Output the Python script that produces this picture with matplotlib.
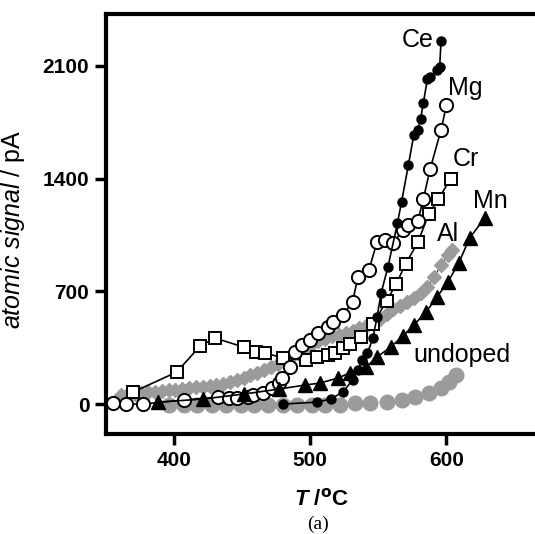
import matplotlib
matplotlib.use('Agg')
import matplotlib.pyplot as plt

plt.rcParams['font.family'] = ['Liberation Sans', 'DejaVu Sans']
plt.rcParams['mathtext.fontset'] = 'custom'
plt.rcParams['mathtext.rm'] = 'Liberation Sans'
plt.rcParams['mathtext.it'] = 'Liberation Sans:italic'
plt.rcParams['mathtext.bfit'] = 'Liberation Sans:italic:bold'

# --- data ---
ce_T = [480, 505, 515, 524, 531, 535, 538, 542, 546, 549, 552, 557, 564, 567,
        572, 576, 579, 581, 583, 586, 588, 593, 595, 596]
ce_S = [0, 12, 31, 75, 149, 211, 273, 317, 410, 540, 689, 851, 1124, 1255,
        1484, 1671, 1702, 1770, 1870, 2019, 2031, 2075, 2093, 2255]

mg_T = [355, 365, 377, 407, 432, 440, 446, 454, 458, 465, 472, 477, 479, 485,
        489, 494, 500, 506, 513, 517, 524, 531, 535, 543, 549, 555, 561, 568,
        572, 579, 583, 588, 596, 600]
mg_S = [6, 0, 0, 25, 43, 37, 37, 43, 56, 68, 99, 130, 161, 230,
        323, 366, 398, 441, 478, 509, 553, 634, 789, 832, 1006, 1019, 1000, 1081,
        1112, 1137, 1273, 1460, 1702, 1857]

cr_T = [370, 402, 419, 430, 451, 460, 467, 480, 497, 505, 513, 518, 524, 529,
        537, 546, 556, 563, 570, 579, 587, 594, 603]
cr_S = [75, 199, 360, 410, 354, 323, 317, 286, 273, 292, 304, 317, 348, 373,
        416, 497, 640, 745, 870, 1006, 1180, 1273, 1398]

mn_T = [388, 421, 451, 477, 496, 507, 520, 529, 541, 549, 559, 568, 576, 585,
        593, 601, 609, 617, 628]
mn_S = [12, 31, 62, 93, 118, 130, 161, 193, 230, 292, 354, 422, 491, 571,
        665, 758, 876, 1031, 1155]

al_T = [361, 366, 371, 376, 381, 386, 391, 396, 401, 406, 411, 416, 421, 426,
        431, 436, 441, 446, 451, 456, 461, 466, 471, 476, 481, 486, 491, 496,
        501, 506, 511, 516, 521, 526, 531, 536, 541, 546, 551, 556, 561, 566,
        571, 576, 581, 586, 591, 596, 601, 604]
al_S = [56, 60, 64, 68, 72, 77, 81, 86, 90, 94, 98, 103, 107, 112,
        118, 126, 137, 150, 164, 180, 196, 213, 230, 250, 272, 295, 320, 345,
        370, 390, 407, 420, 432, 444, 456, 470, 485, 505, 530, 560, 588, 610,
        632, 658, 690, 727, 790, 863, 925, 957]

un_T = [396, 407, 417, 428, 438, 449, 459, 469, 480, 490, 501, 511, 522, 533,
        544, 556, 567, 577, 587, 596, 602, 607]
un_S = [-6, -6, -6, -6, -6, -6, -6, -6, -3, -3, -3, -3, -3, 6,
        6, 12, 25, 43, 68, 99, 137, 180]

labels = ['Ce', 'Mg', 'Cr', 'Mn', 'Al', 'undoped']
label_T = [579, 614, 614, 632, 601, 611]
label_S = [2261, 1963, 1522, 1261, 1056, 305]

fig = plt.figure(figsize=(5.35, 5.34), dpi=100)
ax = fig.add_axes([106 / 535, 100 / 534, 1 - 106 / 535, 420 / 534])

gray = '#9b9b9b'
ax.plot(un_T, un_S, 'o', color=gray, ms=10.5, mec=gray, zorder=1)
ax.plot(al_T, al_S, '-D', color='#2a2a2a', lw=0.8, ms=7.5, mfc=gray, mec=gray, zorder=2)
ax.plot(cr_T, cr_S, '-s', color='black', lw=1.2, ms=8.5, mfc='white', mec='black', mew=1.4, zorder=3)
ax.plot(mg_T, mg_S, '-o', color='black', lw=1.2, ms=9.5, mfc='white', mec='black', mew=1.4, zorder=4)
ax.plot(mn_T, mn_S, '-^', color='black', lw=1.2, ms=9.5, mfc='black', mec='black', zorder=5)
ax.plot(ce_T, ce_S, '-o', color='black', lw=1.2, ms=6.5, mfc='black', mec='black', zorder=6)

for lab, tx, ty in zip(labels, label_T, label_S):
    ax.text(tx, ty, lab, fontsize=18, ha='center', va='center', zorder=7)

ax.set_xlim(350, 665)
ax.set_ylim(-186, 2423)
ax.set_xticks([400, 500, 600])
ax.set_yticks([0, 700, 1400, 2100])

for side in ['left', 'top', 'bottom']:
    ax.spines[side].set_linewidth(3.0)
ax.spines['right'].set_visible(False)
ax.tick_params(direction='out', length=8, width=2.5, labelsize=15, pad=4)
for lab in ax.get_xticklabels() + ax.get_yticklabels():
    lab.set_fontweight('bold')

ax.set_ylabel(r'$\mathit{atomic\ signal}$ / pA', fontsize=18)
ax.yaxis.set_label_coords(-0.184, 0.488)
ax.set_xlabel(r'$\mathbfit{T}$ /$^{\mathbf{o}}$C', fontsize=16, fontweight='bold')
ax.xaxis.set_label_coords(0.501, -0.13)

fig.text(318 / 535, 1 - 524 / 534, '(a)', fontsize=14, family='Liberation Serif',
         ha='center', va='center')

fig.savefig('out.png', dpi=100)
